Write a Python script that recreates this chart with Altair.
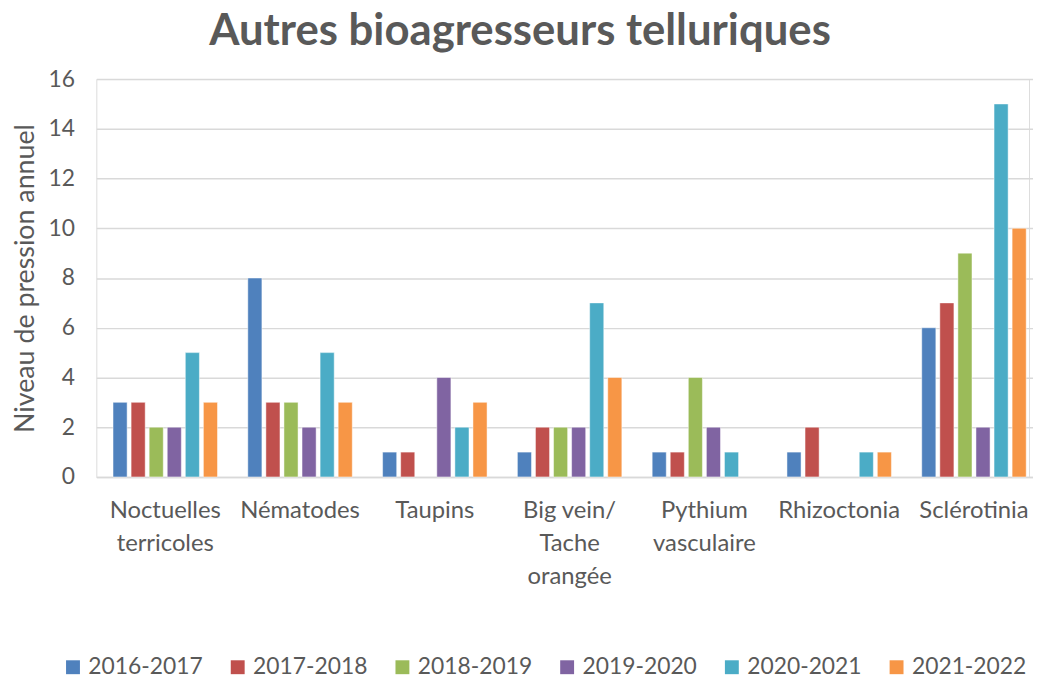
import altair as alt
import pandas as pd

categories = ["Noctuelles|terricoles", "Nématodes", "Taupins", "Big vein/|Tache|orangée",
              "Pythium|vasculaire", "Rhizoctonia", "Sclérotinia"]
years = ["2016-2017", "2017-2018", "2018-2019", "2019-2020", "2020-2021", "2021-2022"]
colors = ["#4F81BD", "#C0504D", "#9BBB59", "#8064A2", "#4BACC6", "#F79646"]

v2016 = [3, 8, 1, 1, 1, 1, 6]
v2017 = [3, 3, 1, 2, 1, 2, 7]
v2018 = [2, 3, None, 2, 4, None, 9]
v2019 = [2, 2, 4, 2, 2, None, 2]
v2020 = [5, 5, 2, 7, 1, 1, 15]
v2021 = [3, 3, 3, 4, None, 1, 10]

series = [v2016, v2017, v2018, v2019, v2020, v2021]
rows = []
for yr, vals in zip(years, series):
    for c, v in zip(categories, vals):
        rows.append({"cat": c, "year": yr, "val": v})
df = pd.DataFrame(rows)

FONT = "Lato"
GREY = "#595959"

chart = alt.Chart(df).mark_bar(stroke="white", strokeWidth=0.8, strokeOpacity=0.6).encode(
    x=alt.X("cat:N", sort=categories, title=None,
            scale=alt.Scale(paddingInner=0.225, paddingOuter=0.124, range=[0, 954], round=False),
            axis=alt.Axis(labelAngle=0, labelExpr="split(datum.label, '|')",
                          labelFontSize=24, labelColor=GREY, labelFont=FONT,
                          labelLineHeight=33, labelPadding=22, ticks=False,
                          domainColor="#D9D9D9", domainWidth=1.5, labelBaseline="top")),
    xOffset=alt.XOffset("year:N", sort=years,
                        scale=alt.Scale(domain=years, paddingInner=0.22, round=False)),
    y=alt.Y("val:Q", title="Niveau de pression annuel",
            scale=alt.Scale(domain=[0, 16]),
            axis=alt.Axis(values=list(range(0, 17, 2)), labelFontSize=23, labelColor=GREY,
                          labelFont=FONT, titleFont=FONT, titleFontSize=27, titleColor=GREY,
                          titleFontWeight="normal", titlePadding=9, labelPadding=22,
                          ticks=False, domain=False, gridColor="#D9D9D9", gridWidth=1.5)),
    color=alt.Color("year:N", sort=years, scale=alt.Scale(domain=years, range=colors),
                    legend=alt.Legend(title=None, orient="none", direction="horizontal",
                                      legendX=-35, legendY=581, padding=0, symbolType="square",
                                      symbolSize=196, symbolStrokeWidth=0, labelFontSize=23,
                                      labelColor=GREY, labelFont=FONT, labelOffset=4,
                                      columnPadding=23, columns=6)),
).properties(
    width=940, height=401,
    padding={"left": 89, "top": 69, "right": 4, "bottom": 203},
    autosize=alt.AutoSizeParams(type="none"),
    title=alt.TitleParams("Autres bioagresseurs telluriques", fontSize=44, font=FONT,
                          fontWeight="bold", color=GREY, anchor="middle", offset=14, dx=-43),
).configure_view(stroke=None).configure(background="white")

chart.save("out.html", embed_options={"renderer": "svg", "actions": False})
